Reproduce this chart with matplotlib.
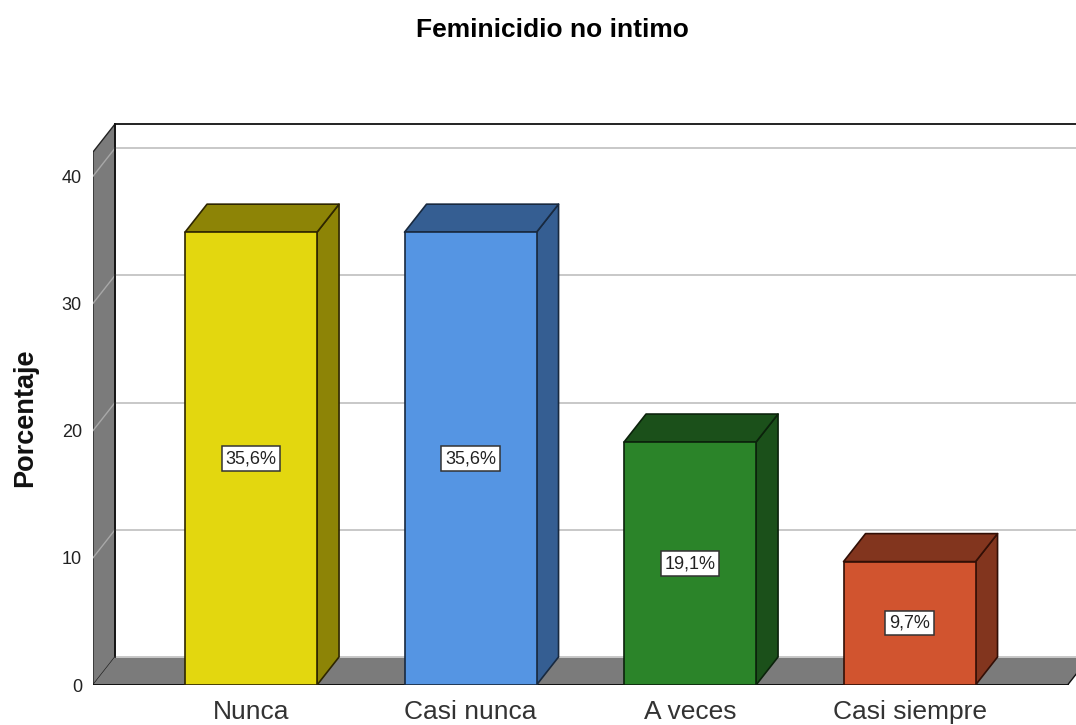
import matplotlib
matplotlib.use("Agg")
import matplotlib.pyplot as plt
from matplotlib.patches import Polygon

categories = ["Nunca", "Casi nunca", "A veces", "Casi siempre"]
values = [35.6, 35.6, 19.1, 9.7]
labels = ["35,6%", "35,6%", "19,1%", "9,7%"]
front_colors = ["#E3D70F", "#5595E3", "#2B8429", "#D1542F"]
side_colors = ["#8D8406", "#355E92", "#1B501A", "#82351E"]
edge_colors = ["#2E2600", "#18293F", "#0B220B", "#320F06"]
yticks = [0, 10, 20, 30, 40]

W, H = 1076, 725
PX_X = 219.5  # pixels per category
PX_Y = 12.72  # pixels per percent
DX = 22 / PX_X  # depth of the 3d effect
DY = 28 / PX_Y
BAR_W = 132 / PX_X
X0, X1 = -0.72, 3.72
YTOP = 41.9

plt.rcParams["font.family"] = ["Liberation Sans", "DejaVu Sans"]

fig = plt.figure(figsize=(W / 100, H / 100), dpi=100)
ax = fig.add_axes([93 / W, 40 / H, (W - 93) / W, (685 - 40) / H])
ax.set_xlim(X0, X0 + (W - 93) / PX_X)
ax.set_ylim(0, (685 - 40) / PX_Y)
for s in ax.spines.values():
    s.set_visible(False)

GRAY = "#7B7B7B"
# left wall and floor
ax.add_patch(Polygon([(X0, 0), (X0 + DX, DY), (X0 + DX, YTOP + DY), (X0, YTOP)],
                     fc=GRAY, ec="#222222", lw=1, zorder=1))
ax.add_patch(Polygon([(X0, 0), (X1, 0), (X1 + DX, DY), (X0 + DX, DY)],
                     fc=GRAY, ec="none", zorder=1))
ax.plot([X0, X1], [0, 0], color="#111111", lw=1.4, zorder=2)
ax.plot([X1, X1 + DX], [0, DY], color="#111111", lw=1, zorder=2)
ax.plot([X0 + DX, X0 + DX], [DY, YTOP + DY], color="#111111", lw=1.3, zorder=2)
ax.plot([X0 + DX, X1 + DX], [YTOP + DY, YTOP + DY], color="#111111", lw=1.3, zorder=2)

# gridlines, on the back wall and running down the left wall
for t in yticks:
    ax.plot([X0 + DX, X1 + DX], [t + DY, t + DY], color="#C8C8C8", lw=1.4, zorder=1.5)
    if t > 0:
        ax.plot([X0, X0 + DX], [t, t + DY], color="#A8A8A8", lw=1, zorder=1.5)

# bars
for i, v in enumerate(values):
    l, r = i - BAR_W / 2, i + BAR_W / 2
    ec = edge_colors[i]
    ax.add_patch(Polygon([(r, 0), (r + DX, DY), (r + DX, v + DY), (r, v)],
                         fc=side_colors[i], ec=ec, lw=1.2, zorder=3, joinstyle="round"))
    ax.add_patch(Polygon([(l, v), (r, v), (r + DX, v + DY), (l + DX, v + DY)],
                         fc=side_colors[i], ec=ec, lw=1.2, zorder=3, joinstyle="round"))
    ax.add_patch(Polygon([(l, 0), (r, 0), (r, v), (l, v)],
                         fc=front_colors[i], ec=ec, lw=1.2, zorder=4, joinstyle="round"))
    ax.text(i, v / 2, labels[i], ha="center", va="center", fontsize=13, color="#222222", zorder=5,
            bbox=dict(boxstyle="square,pad=0.2", fc="white", ec="#333333", lw=1.1))

ax.set_xticks(range(len(categories)))
ax.set_xticklabels(categories, fontsize=19, color="#333333")
ax.set_yticks(yticks)
ax.set_yticklabels([str(t) for t in yticks], fontsize=13, color="#222222")
ax.tick_params(axis="both", length=0)
ax.tick_params(axis="x", pad=11)
ax.tick_params(axis="y", pad=8)

fig.text(552 / W, 1 - 30 / H, "Feminicidio no intimo", ha="center", va="center",
         fontsize=19, fontweight="bold", color="black")
fig.text(25 / W, 1 - 418 / H, "Porcentaje", ha="center", va="center", rotation=90,
         fontsize=19.5, fontweight="bold", color="#111111")

fig.savefig("out.png", dpi=100)
